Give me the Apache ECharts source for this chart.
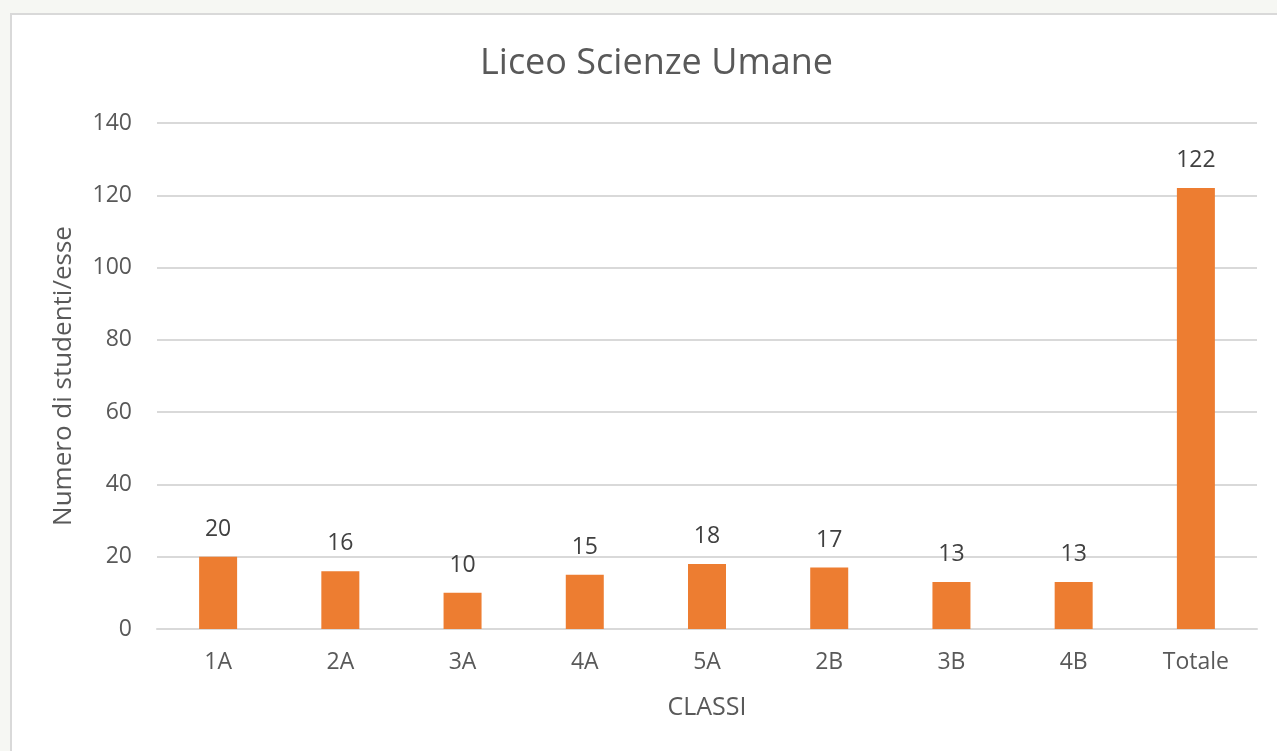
<!DOCTYPE html>
<html>
<head>
<meta charset="utf-8">
<script src="https://cdn.jsdelivr.net/npm/echarts@6/dist/echarts.min.js"></script>
<style>
html,body{margin:0;padding:0;width:1277px;height:751px;overflow:hidden;background:#f6f7f3;}
#frame{position:absolute;left:10px;top:13px;width:1290px;height:760px;background:#fff;border:2px solid #d9d9d9;box-sizing:border-box;}
#chart{position:absolute;left:0;top:0;width:1277px;height:751px;}
</style>
</head>
<body>
<div id="frame"></div>
<div id="chart"></div>
<script>
const categories = ['1A','2A','3A','4A','5A','2B','3B','4B','Totale'];
const studenti = [20,16,10,15,18,17,13,13,122];
const yTicks = [0,20,40,60,80,100,120,140];

const font = '"Open Sans", sans-serif';
const chart = echarts.init(document.getElementById('chart'));
chart.setOption({
  backgroundColor: 'transparent',
  animation: false,
  title: {
    text: 'Liceo Scienze Umane',
    left: 475,
    top: 41,
    textStyle: {fontFamily: font, fontSize: 36, fontWeight: 'normal', color: '#595959'}
  },
  grid: {left: 157, right: 20, top: 123, bottom: 122},
  xAxis: {
    type: 'category',
    data: categories,
    name: 'CLASSI',
    nameLocation: 'middle',
    nameGap: 66,
    nameTextStyle: {fontFamily: font, fontSize: 25, color: '#595959'},
    axisLine: {lineStyle: {color: '#d9d9d9', width: 2}},
    axisTick: {show: false},
    axisLabel: {fontFamily: font, fontSize: 23, color: '#595959', margin: 22}
  },
  yAxis: {
    type: 'value',
    min: yTicks[0],
    max: yTicks[yTicks.length-1],
    interval: 20,
    name: 'Numero di studenti/esse',
    nameLocation: 'middle',
    nameGap: 80,
    nameTextStyle: {fontFamily: font, fontSize: 26, color: '#595959'},
    axisLine: {show: false},
    axisTick: {show: false},
    splitLine: {lineStyle: {color: '#d9d9d9', width: 2}},
    axisLabel: {fontFamily: font, fontSize: 23, color: '#595959', margin: 25}
  },
  series: [{
    type: 'bar',
    data: studenti,
    barWidth: 38,
    itemStyle: {color: '#ED7D31'},
    label: {show: true, position: 'top', distance: 16, fontFamily: font, fontSize: 23, color: '#404040'}
  }]
});
</script>
</body>
</html>
